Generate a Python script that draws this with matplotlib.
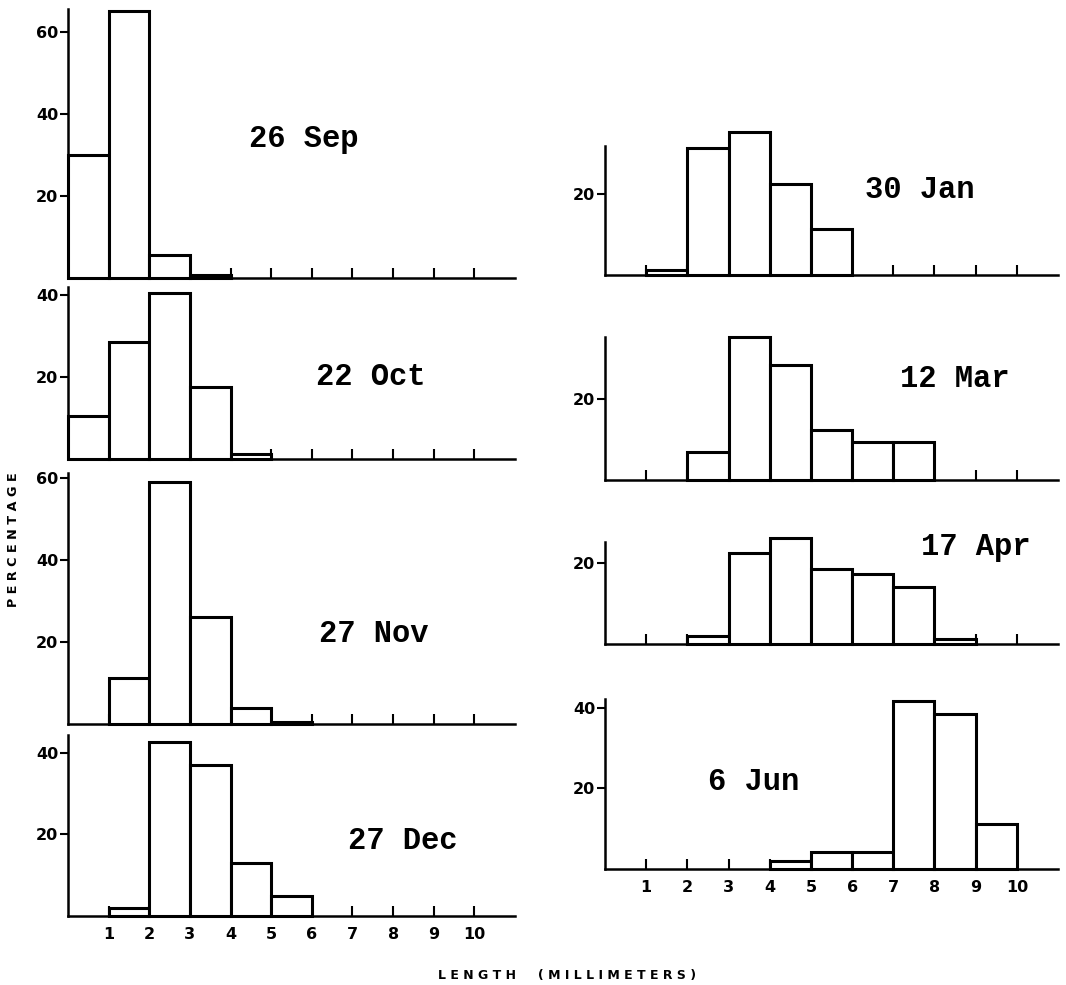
import matplotlib
matplotlib.use('Agg')
import matplotlib.pyplot as plt

W, H = 1066, 985

# bin left edges (millimeters): bins are [0-1], [1-2], ..., [9-10]
bins = [0, 1, 2, 3, 4, 5, 6, 7, 8, 9]
xtick_vals = [1, 2, 3, 4, 5, 6, 7, 8, 9, 10]
xtick_labels = ['1', '2', '3', '4', '5', '6', '7', '8', '9', '10']

# percentages per bin
sep26 = [30, 65, 5.6, 0.8, 0, 0, 0, 0, 0, 0]
oct22 = [10.5, 28.5, 40.5, 17.5, 1.2, 0, 0, 0, 0, 0]
nov27 = [0, 11.2, 58.9, 26, 4, 0.5, 0, 0, 0, 0]
dec27 = [0, 2, 42.8, 37, 13, 5, 0, 0, 0, 0]
jan30 = [0, 1.2, 31.3, 35.3, 22.4, 11.3, 0, 0, 0, 0]
mar12 = [0, 0, 6.9, 35.5, 28.5, 12.3, 9.4, 9.4, 0, 0]
apr17 = [0, 0, 2.1, 22.5, 26.3, 18.5, 17.3, 14.2, 1.2, 0]
jun6 = [0, 0, 0, 0, 2, 4.1, 4.1, 41.7, 38.4, 11.2]

dates = ['26 Sep', '22 Oct', '27 Nov', '27 Dec', '30 Jan', '12 Mar', '17 Apr', '6 Jun']

fig = plt.figure(figsize=(W / 100, H / 100), dpi=100)
fig.patch.set_facecolor('white')

def px_axes(x0, x1, ybot, ytop):
    return [x0 / W, 1 - ybot / H, (x1 - x0) / W, (ybot - ytop) / H]

# (series, axes rect in px, ymax, yticks, label pos (data), bottom?)
panels = [
    (sep26, px_axes(68, 515, 278, 9), 65.6, [20, 40, 60], (5.8, 34), False),
    (oct22, px_axes(68, 515, 459, 287), 42, [20, 40], (7.46, 20), False),
    (nov27, px_axes(68, 515, 724, 473), 61.2, [20, 40, 60], (7.53, 22), False),
    (dec27, px_axes(68, 515, 916, 735), 44.4, [20, 40], (8.24, 18.5), True),
    (jan30, px_axes(605, 1058, 275, 146), 31.9, [20], (7.65, 21), False),
    (mar12, px_axes(605, 1058, 479.5, 337), 35.5, [20], (8.5, 25), False),
    (apr17, px_axes(605, 1058, 644.3, 541.7), 25.3, [20], (9.0, 24), False),
    (jun6, px_axes(605, 1058, 869, 699), 42.2, [20, 40], (3.6, 21.6), True),
]

for (vals, rect, ymax, yt, lpos, bottom), name in zip(panels, dates):
    ax = fig.add_axes(rect)
    xs = [b for b, v in zip(bins, vals) if v > 0]
    hs = [v for v in vals if v > 0]
    bars = ax.bar(xs, hs, width=1.0, align='edge', facecolor='white',
                  edgecolor='black', linewidth=2.2, zorder=3)
    for b in bars:
        b.set_clip_on(False)
    ax.set_xlim(0, 11)
    ax.set_ylim(0, ymax)
    for s in ['top', 'right']:
        ax.spines[s].set_visible(False)
    for s in ['left', 'bottom']:
        ax.spines[s].set_linewidth(1.8)
        ax.spines[s].set_zorder(4)
    ax.set_xticks(xtick_vals)
    ax.set_xticklabels(xtick_labels)
    ax.set_yticks(yt)
    ax.set_yticklabels([str(v) for v in yt])
    ax.tick_params(axis='x', direction='in', length=7, width=1.5,
                   labelbottom=bottom, pad=8, labelsize=11.5)
    ax.tick_params(axis='y', direction='out', length=6, width=1.5,
                   pad=1, labelsize=11.5)
    for lab in ax.get_xticklabels() + ax.get_yticklabels():
        lab.set_fontweight('bold')
    ax.text(lpos[0], lpos[1], name, ha='center', va='center',
            fontsize=22, fontfamily='Liberation Mono', fontweight='bold')

fig.text(14 / W, 1 - 540 / H, 'P E R C E N T A G E', rotation=90,
         ha='center', va='center', fontsize=9.2, fontweight='bold')
fig.text(567 / W, 1 - 975 / H, 'L E N G T H     ( M I L L I M E T E R S )',
         ha='center', va='center', fontsize=9, fontweight='bold')

fig.savefig('out.png', dpi=100, facecolor='white')
